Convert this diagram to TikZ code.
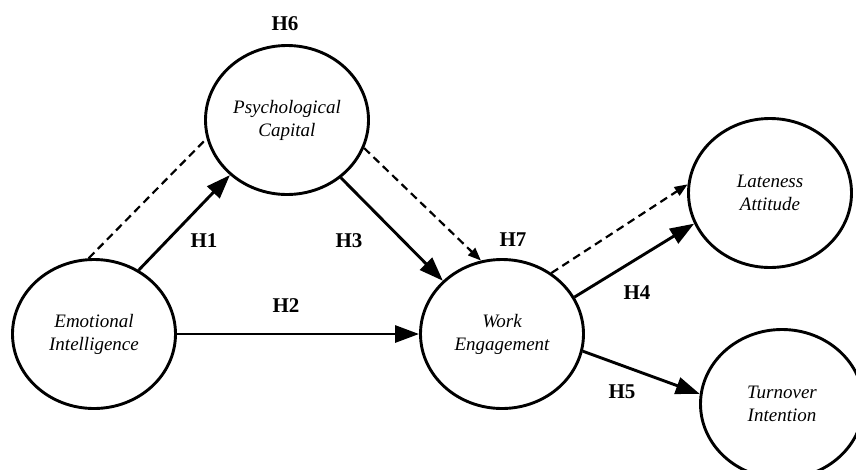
\documentclass[tikz,border=0pt]{standalone}
\usepackage{fontspec}
\setmainfont{Liberation Serif}
\usetikzlibrary{shapes.geometric, arrows.meta, positioning}

\tikzset{
    construct/.style={draw, ellipse, line width=2.9pt, minimum width=163pt, minimum height=149pt, align=center, font=\fontsize{19}{23}\selectfont\itshape},
    hyp/.style={font=\fontsize{21}{25}\selectfont\bfseries},
    direct/.style={line width=2.9pt, -{Triangle[length=24pt,width=17pt]}},
    mediated/.style={line width=2.2pt, dash pattern=on 8pt off 5pt},
    mediatedtip/.style={mediated, -{Triangle[length=13pt,width=10pt]}}
}

\begin{document}
\begin{tikzpicture}[x=1pt, y=-1pt]
    \clip (0,0) rectangle (856,469);

    \node[construct] (ei) at (94,334) {Emotional\\Intelligence};
    \node[construct] (pc) at (287,120) {Psychological\\Capital};
    \node[construct] (we) at (502,334) {Work\\Engagement};
    \node[construct] (la) at (770,193) {Lateness\\Attitude};
    \node[construct] (ti) at (782,404) {Turnover\\Intention};

    % direct effects
    \draw[direct] (ei.55) -- (pc.224);
    \draw[direct] (ei.east) -- (we.west);
    \draw[direct] (pc.313) -- (we.138);
    \draw[direct] (we.27) -- (la.202);
    \draw[direct] (we.348) -- (ti.173);

    % mediation paths
    \draw[mediated] (ei.94) -- (pc.193);
    \draw[mediatedtip] (pc.340) -- (we.106);
    \draw[mediatedtip] (we.51) -- (la.174);

    \node[hyp] (h6) at (285,24) {H6};
    \node[hyp] (h1) at (204,241) {H1};
    \node[hyp] (h3) at (349,241) {H3};
    \node[hyp] (h2) at (286,306) {H2};
    \node[hyp] (h7) at (513,240) {H7};
    \node[hyp] (h4) at (637,293) {H4};
    \node[hyp] (h5) at (622,392) {H5};
\end{tikzpicture}
\end{document}
